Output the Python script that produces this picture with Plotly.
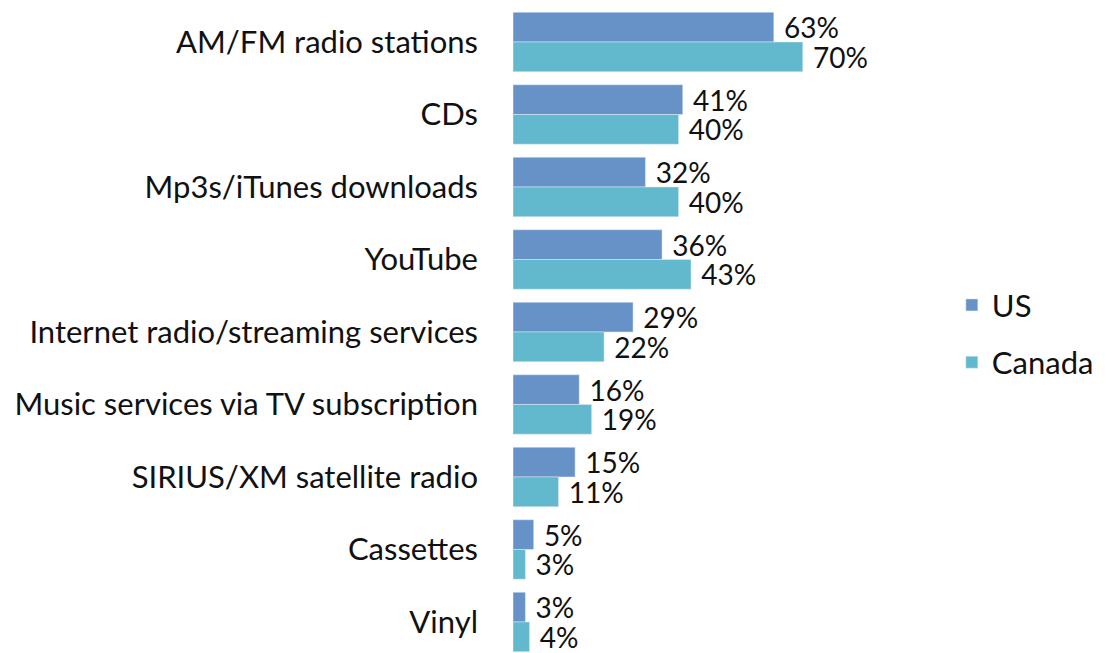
import plotly.graph_objects as go

categories = ["AM/FM radio stations", "CDs", "Mp3s/iTunes downloads", "YouTube",
              "Internet radio/streaming services", "Music services via TV subscription",
              "SIRIUS/XM satellite radio", "Cassettes", "Vinyl"]
us = [63, 41, 32, 36, 29, 16, 15, 5, 3]
canada = [70, 40, 40, 43, 22, 19, 11, 3, 4]

FONT = "Lato"
CAT_FS = 31
VAL_FS = 28
LEG_FS = 31

fig = go.Figure()
fig.add_trace(go.Bar(y=categories, x=us, name="US", orientation="h",
                     marker=dict(color="#6792c8"), legendgroup="us",
                     texttemplate="\u00a0%{x}%", textposition="outside",
                     constraintext="none", cliponaxis=False,
                     textfont=dict(family=FONT, size=VAL_FS, color="#111111")))
fig.add_trace(go.Bar(y=categories, x=canada, name="Canada", orientation="h",
                     marker=dict(color="#62b8cd"), legendgroup="ca",
                     texttemplate="\u00a0%{x}%", textposition="outside",
                     constraintext="none", cliponaxis=False,
                     textfont=dict(family=FONT, size=VAL_FS, color="#111111")))

fig.update_layout(
    width=1097, height=645,
    margin=dict(l=505, r=178, t=0, b=0, autoexpand=False),
    paper_bgcolor="white", plot_bgcolor="white",
    barmode="group", bargap=0.18, bargroupgap=0,
    font=dict(family=FONT, size=CAT_FS, color="#111111"),
    xaxis=dict(range=[0, 100], visible=False, showgrid=False, zeroline=False),
    yaxis=dict(type="category", range=[8.428, -0.469], showgrid=False, zeroline=False,
               showline=False, ticks="", ticklabelstandoff=34,
               tickfont=dict(family=FONT, size=CAT_FS, color="#111111")),
    legend=dict(x=1.060, y=0.495, xanchor="left", yanchor="middle",
                traceorder="grouped", tracegroupgap=14,
                font=dict(family=FONT, size=LEG_FS, color="#111111")),
)

fig.write_html("out.html")
